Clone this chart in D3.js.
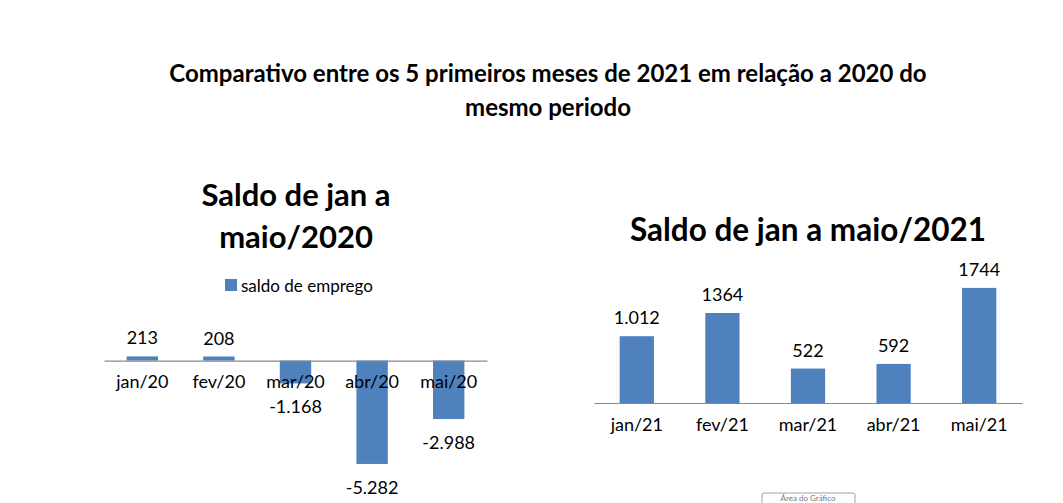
<!DOCTYPE html>
<html>
<head>
<meta charset="utf-8">
<script src="https://cdn.jsdelivr.net/npm/d3@7"></script>
<style>
  html, body { margin: 0; padding: 0; background: #fff; overflow: hidden; }
  svg { display: block; font-family: Lato, "Open Sans", sans-serif; }
</style>
</head>
<body>
<svg id="chart" width="1063" height="503"></svg>
<script>
// dados
const meses2020 = ['jan/20', 'fev/20', 'mar/20', 'abr/20', 'mai/20'];
const saldo2020 = [213, 208, -1168, -5282, -2988];
const rotulos2020 = ['213', '208', '-1.168', '-5.282', '-2.988'];

const meses2021 = ['jan/21', 'fev/21', 'mar/21', 'abr/21', 'mai/21'];
const saldo2021 = [1012, 1364, 522, 592, 1744];
const rotulos2021 = ['1.012', '1364', '522', '592', '1744'];

const tituloGeral = ['Comparativo entre os 5 primeiros meses de 2021 em relação a 2020 do', 'mesmo periodo'];
const titulo2020 = ['Saldo de jan a', 'maio/2020'];
const titulo2021 = 'Saldo de jan a maio/2021';
const legenda = 'saldo de emprego';

const azul = '#4f81bd';
const cinza = '#898989';

const svg = d3.select('#chart');

// titulo geral
svg.append('g').selectAll('text')
  .data(tituloGeral)
  .enter()
  .append('text')
  .attr('x', 548)
  .attr('y', (d, i) => 72 + i * 34)
  .attr('text-anchor', 'middle')
  .attr('dominant-baseline', 'central')
  .style('font-weight', 'bold')
  .style('font-size', '24px')
  .text(d => d);

function desenharBarras(cfg) {
  const g = svg.append('g');
  const dados = cfg.meses.map((m, i) => ({ mes: m, valor: cfg.valores[i], rotulo: cfg.rotulos[i] }));

  const x = d3.scaleBand()
    .domain(cfg.meses)
    .range(cfg.xRange)
    .paddingInner(cfg.pad)
    .paddingOuter(cfg.pad / 2);

  const y = d3.scaleLinear()
    .domain(cfg.yDomain)
    .range(cfg.yRange);

  g.selectAll('rect')
    .data(dados)
    .enter()
    .append('rect')
    .attr('x', d => x(d.mes))
    .attr('y', d => y(Math.max(0, d.valor)))
    .attr('width', x.bandwidth())
    .attr('height', d => Math.abs(y(d.valor) - y(0)))
    .attr('fill', azul);

  // eixo X
  const eixo = g.append('g')
    .attr('transform', `translate(0, ${y(0)})`)
    .call(d3.axisBottom(x).tickSize(0).tickSizeOuter(0).tickPadding(15));
  eixo.select('.domain').attr('stroke', cinza).attr('stroke-width', 1.2);
  eixo.selectAll('text')
    .style('font-family', 'Lato, "Open Sans", sans-serif')
    .style('font-size', '18px')
    .attr('fill', '#000');

  // rotulos de dados
  g.selectAll('.rotulo')
    .data(dados)
    .enter()
    .append('text')
    .attr('class', 'rotulo')
    .attr('x', d => x(d.mes) + x.bandwidth() / 2)
    .attr('y', d => d.valor >= 0 ? y(d.valor) - 19 : y(d.valor) + 23)
    .attr('text-anchor', 'middle')
    .attr('dominant-baseline', 'central')
    .style('font-size', '18px')
    .text(d => d.rotulo);
}

// grafico 2020
svg.append('g').selectAll('text')
  .data(titulo2020)
  .enter()
  .append('text')
  .attr('x', 296)
  .attr('y', (d, i) => 194 + i * 42)
  .attr('text-anchor', 'middle')
  .attr('dominant-baseline', 'central')
  .style('font-weight', 'bold')
  .style('font-size', '31px')
  .text(d => d);

const leg = svg.append('g').attr('transform', 'translate(225, 279)');
leg.append('rect').attr('width', 12).attr('height', 12).attr('fill', azul);
leg.append('text')
  .attr('x', 16)
  .attr('y', 6)
  .attr('dominant-baseline', 'central')
  .style('font-size', '17px')
  .text(legenda);

desenharBarras({
  meses: meses2020,
  valores: saldo2020,
  rotulos: rotulos2020,
  xRange: [104, 487],
  pad: 0.59,
  yDomain: [-6000, 1000],
  yRange: [478, 341]
});

// grafico 2021
svg.append('text')
  .attr('x', 808)
  .attr('y', 229)
  .attr('text-anchor', 'middle')
  .attr('dominant-baseline', 'central')
  .style('font-weight', 'bold')
  .style('font-size', '31.5px')
  .text(titulo2021);

desenharBarras({
  meses: meses2021,
  valores: saldo2021,
  rotulos: rotulos2021,
  xRange: [594, 1022],
  pad: 0.6,
  yDomain: [0, 2000],
  yRange: [403, 271]
});

// dica "Área do Gráfico" na borda inferior
const dica = svg.append('g').attr('transform', 'translate(762, 493)');
dica.append('rect')
  .attr('width', 93).attr('height', 16).attr('rx', 2)
  .attr('fill', '#fff').attr('stroke', '#a0a0a0');
dica.append('text')
  .attr('x', 46).attr('y', 8)
  .attr('text-anchor', 'middle')
  .style('font-size', '8px')
  .attr('fill', '#777')
  .text('Área do Gráfico');
</script>
</body>
</html>
